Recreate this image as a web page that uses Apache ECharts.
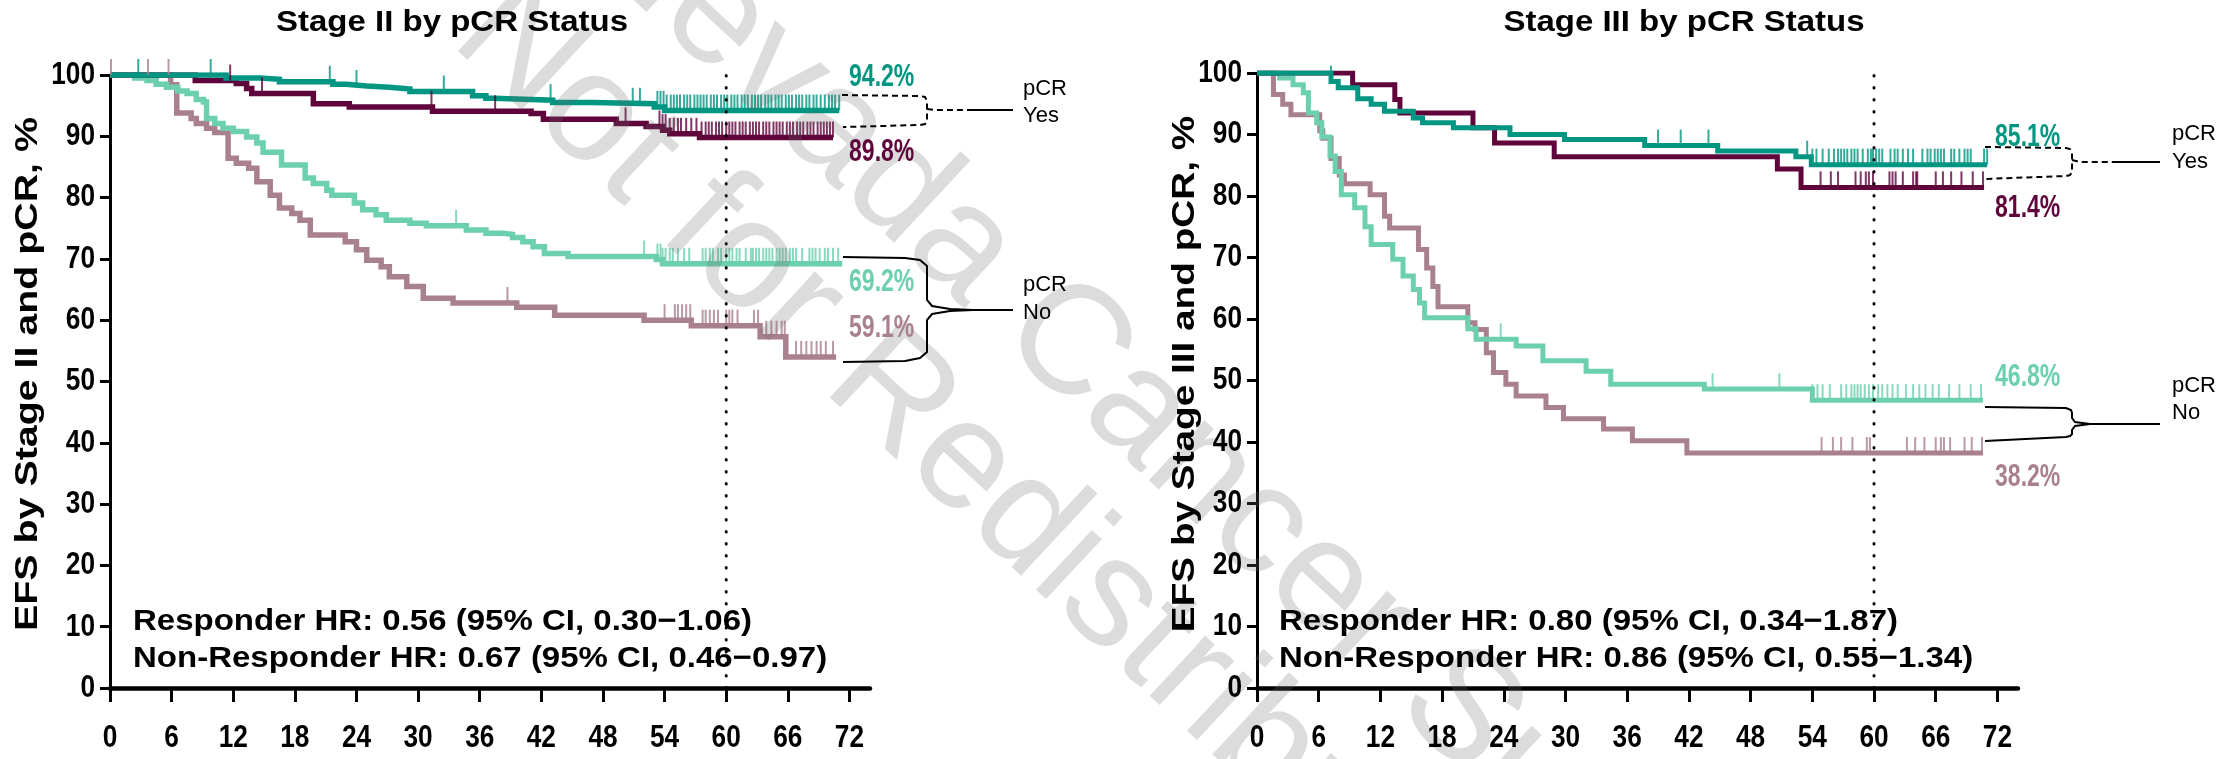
<!DOCTYPE html>
<html><head><meta charset="utf-8">
<script src="https://cdn.jsdelivr.net/npm/echarts@6/dist/echarts.min.js"></script>
<style>html,body{margin:0;padding:0;background:#fff}#c{width:2233px;height:759px}</style>
</head><body><div id="c"></div>
<script>
// ---------------- DATA ----------------
const X_TICKS = [0, 6, 12, 18, 24, 30, 36, 42, 48, 54, 60, 66, 72];
const Y_TICKS = [0, 10, 20, 30, 40, 50, 60, 70, 80, 90, 100];
const LANDMARK = 60;

// Stage II
const s2TealT = [0, 11.3, 14.6, 16.5, 21.7, 23.0, 25.0, 27.2, 29.2, 35.3, 36.6, 37.3, 43.1, 47.0, 53.0, 54.0, 71.0];
const s2TealS = [100, 99.5, 99.3, 98.9, 98.5, 98.2, 98.0, 97.7, 97.3, 96.6, 96.2, 95.9, 95.5, 95.3, 94.8, 94.2, 94.2];
const s2MaroonT = [0, 8.3, 12.3, 13.3, 13.8, 19.8, 23.3, 31.4, 41.0, 42.2, 49.3, 52.2, 53.8, 54.5, 57.4, 70.4];
const s2MaroonS = [100, 99.1, 98.6, 97.8, 97.0, 95.3, 94.8, 94.1, 93.7, 92.8, 92.1, 91.6, 91.0, 90.4, 89.8, 89.8];
const s2MintT = [0, 2.4, 3.6, 4.5, 5.5, 6.6, 7.5, 8.4, 9.1, 9.4, 10.2, 11.0, 12.0, 13.3, 14.3, 14.9, 16.7, 19.0, 19.8, 21.1, 21.6, 23.8, 24.6, 25.9, 26.9, 29.2, 30.8, 34.7, 36.6, 38.3, 39.2, 40.2, 41.2, 42.3, 44.6, 53.2, 53.8, 71.3];
const s2MintS = [100, 99.5, 99.1, 98.5, 98.0, 97.4, 97.0, 96.0, 95.6, 92.9, 92.1, 91.3, 90.8, 89.9, 88.9, 87.4, 85.3, 83.2, 82.3, 81.2, 80.4, 79.1, 78.0, 77.2, 76.3, 75.8, 75.4, 74.7, 74.2, 74.0, 73.5, 72.8, 72.0, 70.9, 70.4, 69.9, 69.2, 69.2];
const s2MauveT = [0, 5.9, 6.5, 7.9, 8.4, 9.4, 10.2, 11.5, 12.3, 13.5, 14.3, 15.6, 16.5, 17.7, 18.5, 19.5, 22.9, 24.0, 25.0, 26.4, 27.2, 28.9, 30.5, 33.4, 39.6, 43.3, 52.0, 56.6, 63.3, 65.8, 70.7];
const s2MauveS = [100, 98.4, 93.8, 92.9, 92.1, 91.3, 90.6, 86.4, 85.6, 84.8, 82.6, 80.4, 78.3, 77.4, 76.3, 73.9, 72.8, 71.5, 69.8, 68.7, 67.1, 65.5, 63.6, 62.8, 62.1, 60.8, 60.0, 59.1, 57.3, 54.0, 54.0];

const s2TealCensor = [2.75, 9.8, 21.4, 24.0, 32.5, 42.9, 50.9, 51.6, 53.3, 53.6, 53.9, 54.2, 54.6, 54.9, 55.2, 55.5, 55.9, 56.2, 56.5, 56.9, 57.2, 57.5, 57.8, 58.1, 58.5, 58.8, 59.1, 59.5, 59.8, 60.1, 60.5, 60.8, 61.1, 61.5, 61.8, 62.1, 62.5, 62.8, 63.1, 63.4, 63.8, 64.1, 64.4, 64.8, 65.1, 65.4, 65.8, 66.1, 66.4, 66.8, 67.1, 67.4, 67.8, 68.1, 68.5, 68.8, 69.2, 69.6, 70.0, 70.3, 70.6, 71.0];
const s2MaroonCensor = [11.7, 14.8, 31.3, 37.5, 50.2, 53.5, 53.8, 54.1, 54.5, 54.9, 55.3, 55.6, 56.1, 56.6, 57.1, 57.6, 58.0, 58.3, 58.6, 59.0, 59.3, 59.6, 60.0, 60.3, 60.6, 60.9, 61.3, 61.6, 61.9, 62.3, 62.6, 62.9, 63.2, 63.6, 63.9, 64.2, 64.6, 64.9, 65.2, 65.5, 65.9, 66.2, 66.5, 66.9, 67.2, 67.5, 67.9, 68.2, 68.5, 68.9, 69.2, 69.5, 69.8, 70.1, 70.4];
const s2MintCensor = [33.7, 52.0, 53.3, 53.6, 53.8, 54.1, 54.5, 54.8, 55.3, 55.9, 56.4, 57.7, 58.0, 58.4, 58.7, 59.2, 59.5, 60.0, 60.3, 60.6, 61.0, 61.3, 61.9, 62.4, 62.6, 62.9, 63.2, 63.6, 63.9, 64.2, 64.5, 64.9, 65.2, 65.5, 65.8, 66.2, 66.5, 66.8, 67.4, 68.1, 68.4, 68.7, 69.1, 69.6, 69.9, 70.4, 70.9];
const s2MauveCensor = [0.1, 3.7, 5.7, 38.7, 54.0, 55.0, 55.3, 55.7, 56.1, 56.5, 57.7, 58.0, 58.4, 58.8, 59.2, 60.0, 60.3, 60.6, 61.1, 62.7, 63.1, 63.9, 64.4, 64.9, 65.4, 65.7, 66.8, 67.3, 67.8, 68.3, 68.8, 69.2, 69.7, 70.4];

// Stage III
const s3TealT = [0, 7.2, 7.9, 9.8, 11.1, 12.4, 15.2, 16.1, 19.1, 24.6, 29.9, 37.7, 44.8, 52.4, 53.9, 71.0];
const s3TealS = [100, 98.6, 97.6, 95.8, 94.9, 93.8, 92.7, 91.9, 91.1, 90.0, 89.2, 88.2, 87.3, 86.4, 85.1, 85.1];
const s3MaroonT = [0, 9.3, 13.4, 13.9, 21.0, 23.1, 28.9, 50.6, 52.9, 70.7];
const s3MaroonS = [100, 98.1, 95.7, 93.5, 91.1, 88.6, 86.4, 84.4, 81.4, 81.4];
const s3MintT = [0, 2.2, 3.5, 4.5, 5.0, 5.8, 6.3, 7.1, 7.6, 8.2, 9.5, 10.5, 11.1, 13.2, 14.2, 15.2, 15.8, 16.3, 20.5, 21.3, 25.2, 27.8, 32.0, 34.4, 43.5, 54.0, 70.6];
const s3MintS = [100, 99.2, 98.1, 96.8, 93.5, 91.9, 89.6, 86.5, 84.0, 80.2, 78.1, 75.0, 72.1, 69.7, 67.0, 64.8, 62.6, 60.2, 58.4, 56.7, 55.6, 53.2, 51.5, 49.4, 48.6, 46.8, 46.8];
const s3MauveT = [0, 1.6, 2.5, 3.3, 6.1, 6.4, 7.2, 8.0, 8.5, 11.0, 12.4, 12.9, 15.7, 16.5, 17.1, 17.6, 20.5, 21.2, 22.3, 23.0, 24.2, 25.2, 28.1, 29.8, 33.7, 36.5, 41.8, 70.6];
const s3MauveS = [100, 96.5, 94.9, 93.2, 90.6, 89.4, 86.1, 83.4, 82.0, 80.2, 76.7, 74.8, 71.3, 68.3, 65.3, 62.0, 59.4, 58.3, 54.5, 51.3, 49.4, 47.5, 45.6, 43.8, 42.1, 40.2, 38.2, 38.2];

const s3TealCensor = [7.2, 39.0, 41.2, 43.9, 53.5, 54.0, 54.4, 55.0, 55.6, 56.1, 56.5, 56.8, 57.1, 57.4, 57.8, 58.1, 58.4, 58.9, 59.4, 59.7, 59.9, 60.2, 60.5, 60.8, 61.6, 62.0, 62.3, 62.8, 63.3, 63.8, 64.7, 65.2, 65.5, 65.9, 66.2, 66.5, 66.8, 67.5, 67.8, 68.3, 68.8, 69.1, 69.4, 70.7, 71.0];
const s3MaroonCensor = [54.8, 55.8, 56.5, 58.2, 58.7, 59.2, 59.5, 59.9, 61.5, 61.8, 62.1, 62.8, 63.8, 64.1, 64.2, 66.0, 66.7, 67.5, 68.5, 69.6, 70.6];
const s3MintCensor = [23.7, 44.3, 50.8, 54.0, 54.5, 55.0, 55.7, 56.8, 57.3, 57.8, 58.1, 58.4, 58.7, 59.1, 59.5, 59.9, 60.4, 60.8, 61.3, 61.8, 62.3, 63.1, 63.8, 64.4, 65.0, 65.7, 66.3, 67.3, 68.3, 69.4, 70.4];
const s3MauveCensor = [54.9, 56.0, 56.8, 57.9, 59.3, 59.6, 63.2, 64.0, 64.9, 66.0, 66.5, 66.8, 67.4, 68.8, 69.5, 70.5];

const pctLabelsS2 = ['94.2%', '89.8%', '69.2%', '59.1%'];
const pctLabelsS3 = ['85.1%', '81.4%', '46.8%', '38.2%'];
const titles = ['Stage II by pCR Status', 'Stage III by pCR Status'];
const yTitles = ['EFS by Stage II and pCR, %', 'EFS by Stage III and pCR, %'];
const hrS2 = ['Responder HR: 0.56 (95% CI, 0.30\u22121.06)', 'Non-Responder HR: 0.67 (95% CI, 0.46\u22120.97)'];
const hrS3 = ['Responder HR: 0.80 (95% CI, 0.34\u22121.87)', 'Non-Responder HR: 0.86 (95% CI, 0.55\u22121.34)'];
const watermark = ['Nevada Cancer Su', 'Not for Redistribution'];

// ---------------- STYLE ----------------
const C_TEAL = '#009682', C_MAROON = '#5f053c', C_MINT = '#6ccfae', C_MAUVE = '#a98090';
const FONT = '"Liberation Sans", Arial, sans-serif';

function km(T, S) { return T.map((t, i) => [t, S[i]]); }
function stepAt(T, S, t) { let v = S[0]; for (let i = 0; i < T.length; i++) { if (T[i] <= t) v = S[i]; } return v; }
function cens(C, T, S) { return C.map(t => [t, stepAt(T, S, t)]); }

const series = [];
function addCurve(g, T, S, C, color, name, w) {
  series.push({ type: 'line', name, xAxisIndex: g, yAxisIndex: g, data: km(T, S), step: 'end', symbol: 'none',
    lineStyle: { color, width: w, join: 'miter', cap: 'butt' }, silent: true, z: 3 });
  series.push({ type: 'scatter', name: name + ' censored', xAxisIndex: g, yAxisIndex: g, data: cens(C, T, S),
    symbol: 'rect', symbolSize: [2, 16], symbolOffset: [0, -8], itemStyle: { color }, silent: true, z: 3 });
}
addCurve(0, s2MauveT, s2MauveS, s2MauveCensor, C_MAUVE, 'Stage II pCR No (B)', 5.5);
addCurve(0, s2MintT, s2MintS, s2MintCensor, C_MINT, 'Stage II pCR No (A)', 5.5);
addCurve(0, s2MaroonT, s2MaroonS, s2MaroonCensor, C_MAROON, 'Stage II pCR Yes (B)', 5.5);
addCurve(0, s2TealT, s2TealS, s2TealCensor, C_TEAL, 'Stage II pCR Yes (A)', 5.5);
addCurve(1, s3MauveT, s3MauveS, s3MauveCensor, C_MAUVE, 'Stage III pCR No (B)', 5);
addCurve(1, s3MintT, s3MintS, s3MintCensor, C_MINT, 'Stage III pCR No (A)', 5);
addCurve(1, s3MaroonT, s3MaroonS, s3MaroonCensor, C_MAROON, 'Stage III pCR Yes (B)', 5);
addCurve(1, s3TealT, s3TealS, s3TealCensor, C_TEAL, 'Stage III pCR Yes (A)', 5);
[[0, 101.5], [1, 100]].forEach(([g, top]) => series.push({ type: 'line', xAxisIndex: g, yAxisIndex: g, data: [[LANDMARK, 0], [LANDMARK, top]],
  symbol: 'none', silent: true, z: 5, lineStyle: { color: '#000', width: 3, type: [0.5, 11.5], cap: 'round' } }));

function xAxis(g) {
  return { gridIndex: g, type: 'value', min: 0, max: 74,
    axisLine: { lineStyle: { color: '#000', width: 4.5 } },
    axisTick: { customValues: X_TICKS, length: 14, lineStyle: { color: '#000', width: 3 } },
    axisLabel: { show: false }, splitLine: { show: false } };
}
function yAxis(g) {
  return { gridIndex: g, type: 'value', min: 0, max: 100, interval: 10,
    axisLine: { show: true, lineStyle: { color: '#000', width: 3 } },
    axisTick: { show: true, length: 10, lineStyle: { color: '#000', width: 3 } },
    axisLabel: { show: false }, splitLine: { show: false } };
}

function txt(x, y, text, font, color, align, extra, z) {
  return Object.assign({ type: 'text', x, y, silent: true, z: z || 10,
    style: { text, fill: color, font, align: align || 'left', verticalAlign: 'middle' } }, extra || {});
}
function pline(points, dashed) {
  return { type: 'polyline', silent: true, z: 10, shape: { points },
    style: { fill: null, stroke: '#000', lineWidth: 2, lineDash: dashed ? [6, 4] : null } };
}
const B32 = 'bold 32px ' + FONT, R22 = '22px ' + FONT, HRF = 'bold 30px ' + FONT, TF = 'bold 30px ' + FONT;
const cond = { scaleX: 0.72 };
const wide = { scaleX: 1.1 };
const WM_ROT = -43 * Math.PI / 180;
const WMF = '155px ' + FONT, WM_FILL = 'rgba(110,110,110,0.24)';

const graphics = [
  txt(603, -87, watermark[0], WMF, WM_FILL, 'left', { rotation: WM_ROT }, 8),
  txt(478, 11, watermark[1], WMF, WM_FILL, 'left', { rotation: WM_ROT }, 8),
  txt(452, 23, titles[0], TF, '#000', 'center', wide),
  txt(1684, 23, titles[1], TF, '#000', 'center', wide),
  txt(28, 374, yTitles[0], B32, '#000', 'center', { rotation: Math.PI / 2, scaleX: 1.23 }),
  txt(1185, 374, yTitles[1], B32, '#000', 'center', { rotation: Math.PI / 2, scaleX: 1.21 }),
  txt(133, 622, hrS2[0], HRF, '#000', 'left', wide), txt(133, 659, hrS2[1], HRF, '#000', 'left', wide),
  txt(1279, 622, hrS3[0], HRF, '#000', 'left', wide), txt(1279, 659, hrS3[1], HRF, '#000', 'left', wide),
  txt(849, 77, pctLabelsS2[0], B32, C_TEAL, 'left', cond), txt(849, 152, pctLabelsS2[1], B32, C_MAROON, 'left', cond),
  txt(849, 282, pctLabelsS2[2], B32, C_MINT, 'left', cond), txt(849, 328, pctLabelsS2[3], B32, C_MAUVE, 'left', cond),
  txt(1995, 137, pctLabelsS3[0], B32, C_TEAL, 'left', cond), txt(1995, 208, pctLabelsS3[1], B32, C_MAROON, 'left', cond),
  txt(1995, 377, pctLabelsS3[2], B32, C_MINT, 'left', cond), txt(1995, 477, pctLabelsS3[3], B32, C_MAUVE, 'left', cond),
  txt(1023, 89, 'pCR', R22, '#000'), txt(1023, 116, 'Yes', R22, '#000'),
  txt(1023, 285, 'pCR', R22, '#000'), txt(1023, 313, 'No', R22, '#000'),
  txt(2172, 134, 'pCR', R22, '#000'), txt(2172, 162, 'Yes', R22, '#000'),
  txt(2172, 386, 'pCR', R22, '#000'), txt(2172, 413, 'No', R22, '#000'),
  pline([[842, 95], [920, 96], [925, 97], [927, 101], [927, 121], [925, 124], [920, 125], [843, 127]], true),
  pline([[927, 109], [935, 110], [967, 110]], true), pline([[967, 110], [1013, 110]], false),
  pline([[843, 257], [905, 258], [920, 260], [927, 266], [927, 300], [932, 306], [950, 309], [973, 310], [1013, 310]], false),
  pline([[973, 310], [950, 311], [932, 314], [927, 320], [927, 352], [920, 358], [905, 361], [843, 362]], false),
  pline([[1985, 147], [2066, 148], [2070, 149], [2072, 153], [2072, 172], [2070, 175], [2066, 176], [1985, 179]], true),
  pline([[2072, 160], [2080, 162], [2113, 162]], true), pline([[2113, 162], [2160, 162]], false),
  pline([[1985, 407], [2066, 408], [2071, 410], [2072, 413], [2072, 418], [2075, 422], [2090, 424], [2160, 424]], false),
  pline([[2090, 424], [2075, 426], [2072, 430], [2072, 434], [2070, 436], [2066, 437], [1985, 441]], false)
];

const chart = echarts.init(document.getElementById('c'));
chart.setOption({
  animation: false,
  backgroundColor: '#fff',
  grid: [{ left: 110, top: 75, width: 760, height: 613 }, { left: 1257, top: 73, width: 761, height: 615 }],
  xAxis: [xAxis(0), xAxis(1)],
  yAxis: [yAxis(0), yAxis(1)],
  series,
  graphic: graphics
});

// condensed tick labels placed through the axes' own scales
const tickLabels = [];
[0, 1].forEach(g => {
  X_TICKS.forEach(v => {
    const p = chart.convertToPixel({ gridIndex: g }, [v, 0]);
    tickLabels.push(txt(p[0], p[1] + 50, String(v), B32, '#000', 'center', { scaleX: 0.82 }));
  });
  Y_TICKS.forEach(v => {
    const p = chart.convertToPixel({ gridIndex: g }, [0, v]);
    tickLabels.push(txt(p[0] - 15, p[1], String(v), B32, '#000', 'right', { scaleX: 0.82 }));
  });
});
chart.setOption({ graphic: graphics.concat(tickLabels) });
</script></body></html>
